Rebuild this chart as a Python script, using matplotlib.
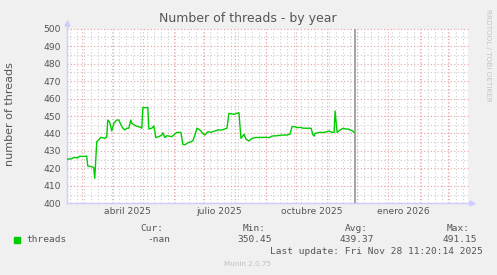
import pandas as pd
import matplotlib
matplotlib.use('Agg')
import matplotlib.pyplot as plt

dates = ['2025-02-14', '2025-02-19', '2025-02-21', '2025-02-25', '2025-02-27', '2025-03-02',
         '2025-03-06', '2025-03-07', '2025-03-11', '2025-03-13', '2025-03-14', '2025-03-16',
         '2025-03-18', '2025-03-20', '2025-03-24', '2025-03-26', '2025-03-27', '2025-03-29',
         '2025-03-31', '2025-04-02', '2025-04-05', '2025-04-07', '2025-04-09', '2025-04-11',
         '2025-04-13', '2025-04-15', '2025-04-17', '2025-04-19', '2025-04-20', '2025-04-24',
         '2025-04-29', '2025-04-30', '2025-05-01', '2025-05-06', '2025-05-07', '2025-05-10',
         '2025-05-12', '2025-05-14', '2025-05-17', '2025-05-20', '2025-05-21', '2025-05-23',
         '2025-05-25', '2025-05-30', '2025-06-04', '2025-06-08', '2025-06-10', '2025-06-12',
         '2025-06-15', '2025-06-18', '2025-06-20', '2025-06-22', '2025-06-24', '2025-06-27',
         '2025-06-30', '2025-07-02', '2025-07-05', '2025-07-08', '2025-07-12', '2025-07-15',
         '2025-07-19', '2025-07-24', '2025-07-26', '2025-07-31', '2025-08-05', '2025-08-07',
         '2025-08-10', '2025-08-12', '2025-08-15', '2025-08-18', '2025-08-22', '2025-08-27',
         '2025-09-01', '2025-09-04', '2025-09-07', '2025-09-12', '2025-09-17', '2025-09-22',
         '2025-09-25', '2025-09-27', '2025-09-30', '2025-10-02', '2025-10-05', '2025-10-08',
         '2025-10-12', '2025-10-16', '2025-10-18', '2025-10-19', '2025-10-20', '2025-10-24',
         '2025-10-29', '2025-11-01', '2025-11-03', '2025-11-06', '2025-11-08', '2025-11-09',
         '2025-11-11', '2025-11-14', '2025-11-17', '2025-11-19', '2025-11-22', '2025-11-26',
         '2025-11-28']
threads = [425.2, 425.5, 426.3, 426.0, 427.0, 426.8,
           427.0, 421.4, 421.0, 420.4, 414.3, 435.3,
           436.3, 437.8, 437.2, 438.0, 447.7, 446.4,
           441.4, 445.8, 447.7, 447.7, 445.2, 443.0,
           442.0, 443.0, 443.0, 447.7, 445.8, 444.3,
           443.5, 443.0, 454.8, 454.8, 442.6, 443.0,
           444.3, 437.6, 438.2, 439.1, 440.4, 437.6,
           438.7, 438.2, 440.6, 440.6, 433.8, 433.5,
           434.7, 435.3, 435.7, 439.1, 443.0, 442.0,
           440.0, 439.1, 441.0, 440.6, 441.4, 442.0,
           442.0, 443.0, 451.5, 451.0, 451.9, 437.2,
           439.5, 436.8, 435.7, 437.2, 437.7, 437.7,
           437.8, 437.6, 438.5, 438.7, 439.1, 439.1,
           439.7, 443.9, 443.9, 443.3, 443.5, 443.0,
           443.0, 443.0, 439.1, 438.5, 440.0, 440.6,
           440.6, 441.0, 441.4, 440.6, 440.6, 452.9,
           440.6, 442.0, 443.0, 442.6, 442.5, 441.6,
           440.6]
month_labels = ['abril 2025', 'julio 2025', 'octubre 2025', 'enero 2026']
label_dates = ['2025-04-15 12:00', '2025-07-16 12:00', '2025-10-16 12:00', '2026-01-16 12:00']
now = '2025-11-28 11:20'
legend_headers = ['Cur:', 'Min:', 'Avg:', 'Max:']
legend_values = ['-nan', '350.45', '439.37', '491.15']

x = pd.to_datetime(dates)
x_start = pd.Timestamp('2025-03-01') - pd.Timedelta(days=14.7)
x_end = pd.Timestamp('2026-03-01') + pd.Timedelta(days=20.7)

W, H = 497, 275
fig = plt.figure(figsize=(W / 100, H / 100), dpi=100, facecolor='#F0F0F0')
ax = fig.add_axes([67 / W, 1 - 203.3 / H, (468 - 67) / W, (203.3 - 28.7) / H])
ax.set_facecolor('white')

ax.set_xlim(x_start, x_end)
ax.set_ylim(400, 500)

# grid: minor gray, major red, drawn by hand like rrdtool
for v in range(405, 500, 10):
    ax.axhline(v, color='#CDCDCD', lw=0.8, ls=(0, (1, 2)), zorder=1)
for d in pd.date_range(x_start, x_end, freq='W-MON'):
    ax.axvline(d, color='#CDCDCD', lw=0.8, ls=(0, (1, 2)), zorder=1)
for v in range(400, 501, 10):
    ax.axhline(v, color='#EBA0A0', lw=0.8, ls=(0, (1, 2)), zorder=2, clip_on=False)
for d in pd.date_range(x_start, x_end, freq='MS'):
    ax.axvline(d, color='#EBA0A0', lw=0.8, ls=(0, (1, 2)), zorder=2)

ax.axvline(pd.Timestamp(now), color='#8A8A8A', lw=1.1, zorder=3)
ax.plot(x, threads, color='#00CC00', lw=1.0, zorder=4)

ax.set_yticks(range(400, 501, 10))
ax.set_xticks(pd.to_datetime(label_dates))
ax.set_xticklabels(month_labels)
ax.tick_params(axis='both', length=0, labelsize=6.6, colors='#555555')
ax.tick_params(axis='y', pad=4.5)
ax.tick_params(axis='x', pad=3)

for s in ['top', 'right']:
    ax.spines[s].set_visible(False)
for s in ['left', 'bottom']:
    ax.spines[s].set_color('#CCCCFF')
    ax.spines[s].set_linewidth(1.0)
ax.plot([0, 0], [1, 1.03], color='#CCCCFF', lw=1, transform=ax.transAxes, clip_on=False)
ax.plot([1, 1.008], [0, 0], color='#CCCCFF', lw=1, transform=ax.transAxes, clip_on=False)
ax.plot([0], [1.035], marker='^', ms=3.5, color='#CCCCFF', transform=ax.transAxes, clip_on=False)
ax.plot([1.01], [0], marker='>', ms=3.5, color='#CCCCFF', transform=ax.transAxes, clip_on=False)

fig.text(248 / W, 1 - 18.5 / H, 'Number of threads - by year', ha='center', va='center',
         fontsize=9.0, color='#555555')
fig.text(10 / W, 1 - 114 / H, 'number of threads', rotation=90, ha='center', va='center',
         fontsize=8.0, color='#555555')
fig.text(488 / W, 1 - 55 / H, 'RRDTOOL / TOBI OETIKER', rotation=270, ha='center', va='center',
         fontsize=5.2, color='#C4C4C4')

# legend block
mono = 'DejaVu Sans Mono'
fig.patches.append(plt.Rectangle((14 / W, 1 - 242.5 / H), 6 / W, 5.5 / H, transform=fig.transFigure,
                                 color='#00CC00'))
fig.text(26.5 / W, 1 - 239.5 / H, 'threads', family=mono, fontsize=6.8, color='#555555', va='center')
head_x = [163, 265.7, 367.7, 470]
val_x = [170, 271.7, 374.3, 476.7]
for hx, h in zip(head_x, legend_headers):
    fig.text(hx / W, 1 - 228.5 / H, h, family=mono, fontsize=6.8, color='#555555', ha='right', va='center')
for vx, v in zip(val_x, legend_values):
    fig.text(vx / W, 1 - 239.5 / H, v, family=mono, fontsize=6.8, color='#555555', ha='right', va='center')
fig.text(482.3 / W, 1 - 251.5 / H, 'Last update: Fri Nov 28 11:20:14 2025', family=mono,
         fontsize=6.8, color='#555555', ha='right', va='center')
fig.text(248 / W, 1 - 264 / H, 'Munin 2.0.75', fontsize=5.2, color='#C0C0C0', ha='center', va='center')

fig.savefig('out.png', dpi=100, facecolor=fig.get_facecolor())
